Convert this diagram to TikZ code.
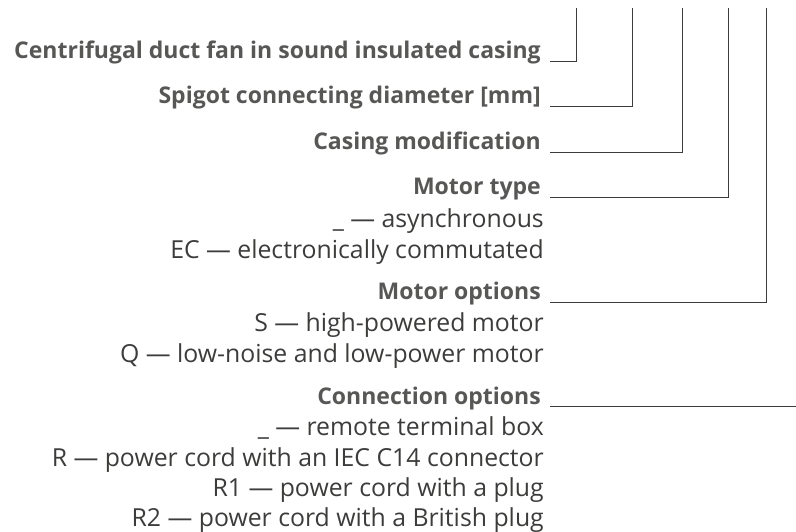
\documentclass[tikz,border=0pt]{standalone}
\usepackage{fontspec}
\setmainfont{Open Sans}
\definecolor{headc}{HTML}{575756}
\definecolor{itemc}{HTML}{3C3C3B}
\definecolor{linec}{HTML}{3C3C3B}
\begin{document}
\begin{tikzpicture}[x=1pt,y=-1pt,
  head/.style={anchor=base east,inner sep=0pt,text=headc,font=\fontsize{23}{27}\selectfont\bfseries},
  item/.style={anchor=base east,inner sep=0pt,text=itemc,font=\fontsize{24.8}{28}\selectfont},
  lead/.style={draw=linec,line width=0.9pt}]
\useasboundingbox (0,0) rectangle (796,531);
% headers
\node[head] (h1) at (541,58) {Centrifugal duct fan in sound insulated casing};
\node[head] (h2) at (541,103) {Spigot connecting diameter [mm]};
\node[head] (h3) at (541,149) {Casing modification};
\node[head] (h4) at (541,194) {Motor type};
\node[item] (i41) at (544,227) {\_ — asynchronous};
\node[item] (i42) at (544,258) {EC — electronically commutated};
\node[head] (h5) at (541,299) {Motor options};
\node[item] (i51) at (544,331) {S — high-powered motor};
\node[item] (i52) at (544,362) {Q — low-noise and low-power motor};
\node[head] (h6) at (541,404) {Connection options};
\node[item] (i61) at (544,435) {\_ — remote terminal box};
\node[item] (i62) at (544,466) {R — power cord with an IEC C14 connector};
\node[item] (i63) at (544,496) {R1 — power cord with a plug};
\node[item] (i64) at (544,526) {R2 — power cord with a British plug};
% leader ends
\coordinate (t1) at (576,8);
\coordinate (t2) at (632,8);
\coordinate (t3) at (682,8);
\coordinate (t4) at (728,8);
\coordinate (t5) at (766,8);
\coordinate (e6) at (796,406);
\coordinate (s1) at (550,61);
\coordinate (s2) at (550,106);
\coordinate (s3) at (550,152);
\coordinate (s4) at (550,197);
\coordinate (s5) at (550,302);
\coordinate (s6) at (550,406);
\draw[lead] (s1) -| (t1);
\draw[lead] (s2) -| (t2);
\draw[lead] (s3) -| (t3);
\draw[lead] (s4) -| (t4);
\draw[lead] (s5) -| (t5);
\draw[lead] (s6) -- (e6);
\end{tikzpicture}
\end{document}
